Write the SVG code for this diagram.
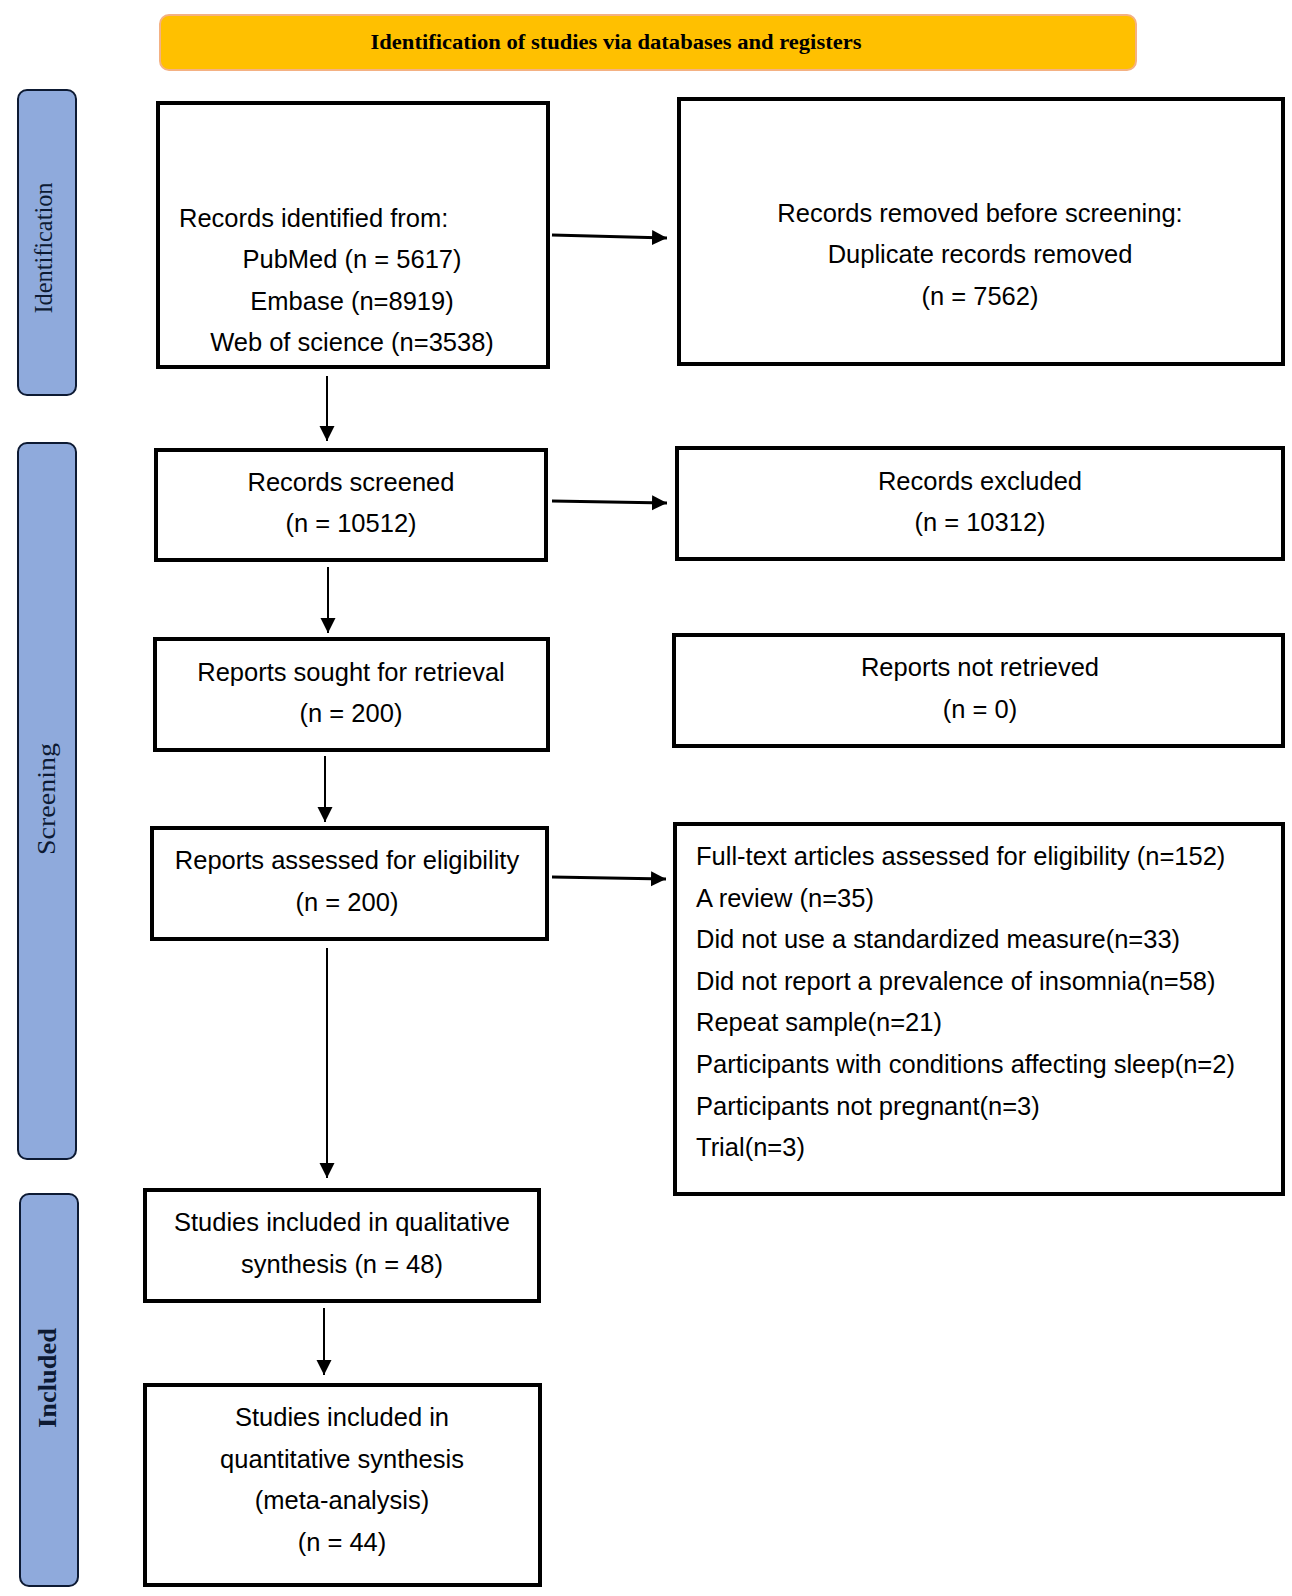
<svg xmlns="http://www.w3.org/2000/svg" width="1292" height="1596" viewBox="0 0 1292 1596">
<style>
.box{fill:#fff;stroke:#000;stroke-width:4}
.bar{fill:#8FAADC;stroke:#0d1a33;stroke-width:2}
.t{font-family:"Liberation Sans",Arial,sans-serif;font-size:25.5px;fill:#000}
.c{text-anchor:middle}
.side{font-family:"Liberation Serif","Times New Roman",serif;font-size:26px;fill:#0d1a33;text-anchor:middle}
.hdr{font-family:"Liberation Serif","Times New Roman",serif;font-size:20px;font-weight:bold;fill:#000;text-anchor:middle}
.ln{stroke:#000;stroke-width:2;fill:none;marker-end:url(#ah)}
.lh{stroke:#000;stroke-width:3;fill:none;marker-end:url(#ah)}
</style>
<defs>
<marker id="ah" markerUnits="userSpaceOnUse" markerWidth="16" markerHeight="16" refX="15" refY="7.5" orient="auto">
<path d="M0,0 L15,7.5 L0,15 Z" fill="#000"/>
</marker>
</defs>
<rect width="1292" height="1596" fill="#fff"/>

<g id="header">
<rect x="160" y="15" width="976" height="55" rx="9" fill="#FFC000" stroke="#F4B183" stroke-width="2"/>
<text class="hdr" x="616" y="49" textLength="491" lengthAdjust="spacingAndGlyphs">Identification of studies via databases and registers</text>
</g>

<g id="bar-identification">
<rect class="bar" x="18" y="90" width="58" height="305" rx="9"/>
<text class="side" transform="translate(52,248) rotate(-90)" textLength="131" lengthAdjust="spacingAndGlyphs">Identification</text>
</g>
<g id="bar-screening">
<rect class="bar" x="18" y="443" width="58" height="716" rx="9"/>
<text class="side" transform="translate(55,799) rotate(-90)" textLength="112" lengthAdjust="spacingAndGlyphs">Screening</text>
</g>
<g id="bar-included">
<rect class="bar" x="20" y="1194" width="58" height="392" rx="9"/>
<text class="side" font-weight="bold" transform="translate(56,1378) rotate(-90)" textLength="100" lengthAdjust="spacingAndGlyphs">Included</text>
</g>

<g id="records-identified">
<rect class="box" x="158" y="103" width="390" height="264"/>
<text class="t" x="179" y="227">Records identified from:</text>
<text class="t c" x="352" y="268">PubMed (n = 5617)</text>
<text class="t c" x="352" y="310">Embase (n=8919)</text>
<text class="t c" x="352" y="351">Web of science (n=3538)</text>
</g>

<g id="records-removed">
<rect class="box" x="679" y="99" width="604" height="265"/>
<text class="t c" x="980" y="222">Records removed before screening:</text>
<text class="t c" x="980" y="263">Duplicate records removed</text>
<text class="t c" x="980" y="305">(n = 7562)</text>
</g>

<g id="records-screened">
<rect class="box" x="156" y="450" width="390" height="110"/>
<text class="t c" x="351" y="491">Records screened</text>
<text class="t c" x="351" y="532">(n = 10512)</text>
</g>

<g id="records-excluded">
<rect class="box" x="677" y="448" width="606" height="111"/>
<text class="t c" x="980" y="490">Records excluded</text>
<text class="t c" x="980" y="531">(n = 10312)</text>
</g>

<g id="reports-sought">
<rect class="box" x="155" y="639" width="393" height="111"/>
<text class="t c" x="351" y="681">Reports sought for retrieval</text>
<text class="t c" x="351" y="722">(n = 200)</text>
</g>

<g id="reports-not-retrieved">
<rect class="box" x="674" y="635" width="609" height="111"/>
<text class="t c" x="980" y="676">Reports not retrieved</text>
<text class="t c" x="980" y="718">(n = 0)</text>
</g>

<g id="reports-assessed">
<rect class="box" x="152" y="828" width="395" height="111"/>
<text class="t c" x="347" y="869">Reports assessed for eligibility</text>
<text class="t c" x="347" y="911">(n = 200)</text>
</g>

<g id="reports-excluded">
<rect class="box" x="675" y="824" width="608" height="370"/>
<text class="t" x="696" y="865">Full-text articles assessed for eligibility (n=152)</text>
<text class="t" x="696" y="907">A review (n=35)</text>
<text class="t" x="696" y="948">Did not use a standardized measure(n=33)</text>
<text class="t" x="696" y="990">Did not report a prevalence of insomnia(n=58)</text>
<text class="t" x="696" y="1031">Repeat sample(n=21)</text>
<text class="t" x="696" y="1073">Participants with conditions affecting sleep(n=2)</text>
<text class="t" x="696" y="1115">Participants not pregnant(n=3)</text>
<text class="t" x="696" y="1156">Trial(n=3)</text>
</g>

<g id="studies-qualitative">
<rect class="box" x="145" y="1190" width="394" height="111"/>
<text class="t c" x="342" y="1231">Studies included in qualitative</text>
<text class="t c" x="342" y="1273">synthesis (n = 48)</text>
</g>

<g id="studies-quantitative">
<rect class="box" x="145" y="1385" width="395" height="200"/>
<text class="t c" x="342" y="1426">Studies included in</text>
<text class="t c" x="342" y="1468">quantitative synthesis</text>
<text class="t c" x="342" y="1509">(meta-analysis)</text>
<text class="t c" x="342" y="1551">(n = 44)</text>
</g>

<g id="connectors">
<path class="lh" d="M552,235 L667,238"/>
<path class="ln" d="M327,376 L327,441"/>
<path class="lh" d="M552,501 L667,503"/>
<path class="ln" d="M328,567 L328,633"/>
<path class="ln" d="M325,756 L325,822"/>
<path class="lh" d="M552,877 L666,879"/>
<path class="ln" d="M327,948 L327,1178"/>
<path class="ln" d="M324,1308 L324,1375"/>
</g>
</svg>
